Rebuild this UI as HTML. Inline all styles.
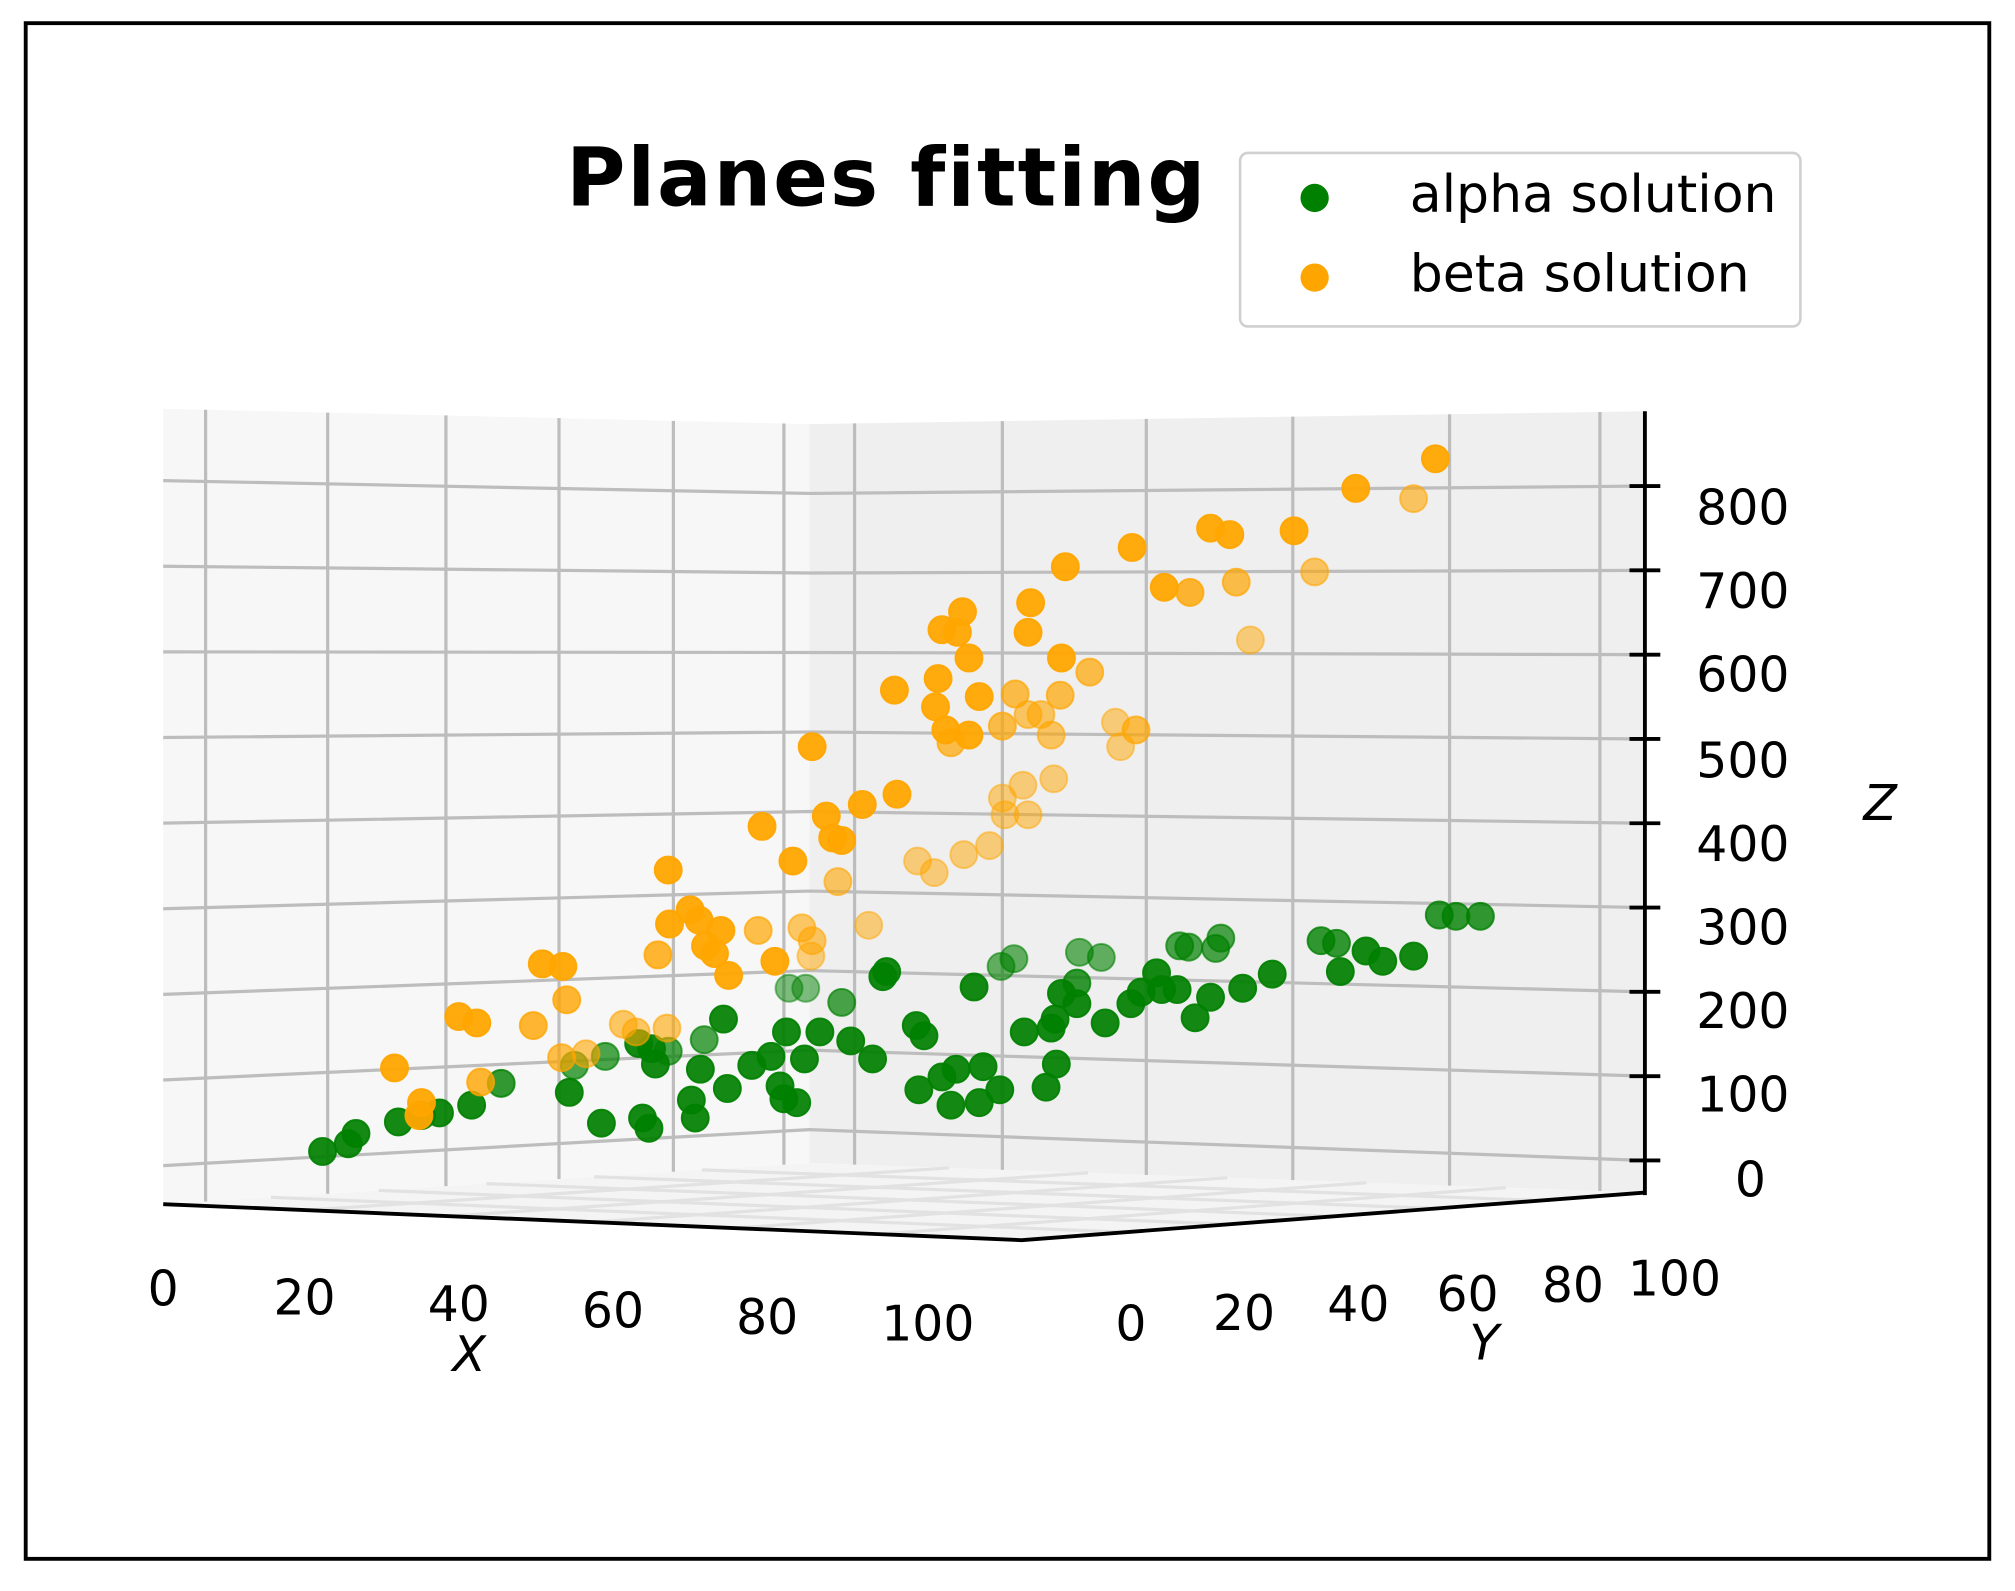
<!DOCTYPE html>
<html><head><meta charset="utf-8"><style>
html,body{margin:0;padding:0;background:#fff;}
svg{display:block;}
text{font-family:"DejaVu Sans","Liberation Sans",sans-serif;fill:#000;}
</style></head><body>
<svg id="s" width="2015" height="1591" viewBox="0 0 1568 1238" xmlns="http://www.w3.org/2000/svg">
<rect x="0" y="0" width="1568" height="1238" fill="#fff"/>
<rect x="20" y="18" width="1528" height="1195" fill="none" stroke="#000" stroke-width="3"/>
<text x="690" y="160" font-size="63" font-weight="bold" text-anchor="middle" letter-spacing="1.5">Planes fitting</text>
<rect x="965" y="119" width="436" height="135" rx="6" fill="#fff" stroke="#d0d0d0" stroke-width="2"/>
<circle cx="1023" cy="154" r="11" fill="#008000"/>
<circle cx="1023" cy="216" r="11" fill="#ffa500"/>
<text x="1097" y="165" font-size="40.5">alpha solution</text>
<text x="1097" y="227" font-size="40.5">beta solution</text>
<polygon points="127,318 630,330 630,905 127,937" fill="#f7f7f7"/>
<polygon points="630,330 1280,320 1280,928 630,905" fill="#efefef"/>
<polygon points="127,937 630,905 1280,928 795,965" fill="#f4f4f4"/>
<g id="grid" stroke="#bdbdbd" stroke-width="2.5" fill="none"></g>
<g stroke="#000" stroke-width="3" fill="none">
<line x1="1280" y1="320" x2="1280" y2="930"/>
<polyline points="127,937 795,965 1280,928"/>
</g>
<g id="ticks" stroke="#000" stroke-width="3"></g>
<g font-size="38">
<text x="1320" y="408">800</text><text x="1320" y="473">700</text><text x="1320" y="538">600</text>
<text x="1320" y="605">500</text><text x="1320" y="670">400</text><text x="1320" y="735">300</text>
<text x="1320" y="800">200</text><text x="1320" y="865">100</text><text x="1350" y="931">0</text>
<text x="1450" y="638" font-style="italic">Z</text>
<text x="127" y="1016" text-anchor="middle">0</text><text x="237" y="1023" text-anchor="middle">20</text>
<text x="357" y="1028" text-anchor="middle">40</text><text x="477" y="1033" text-anchor="middle">60</text>
<text x="597" y="1038" text-anchor="middle">80</text><text x="722" y="1043" text-anchor="middle">100</text>
<text x="365" y="1067" text-anchor="middle" font-style="italic">X</text>
<text x="880" y="1043" text-anchor="middle">0</text><text x="968" y="1035" text-anchor="middle">20</text>
<text x="1057" y="1028" text-anchor="middle">40</text><text x="1142" y="1020" text-anchor="middle">60</text>
<text x="1224" y="1013" text-anchor="middle">80</text><text x="1303" y="1008" text-anchor="middle">100</text>
<text x="1155" y="1058" text-anchor="middle" font-style="italic">Y</text>
</g>
<g id="pts"></g>
</svg>
<script>
var NS="http://www.w3.org/2000/svg";
function el(p,t,a){var e=document.createElementNS(NS,t);for(var k in a)e.setAttribute(k,a[k]);p.appendChild(e);return e;}
var g=document.getElementById("grid");
for(var z=0;z<=800;z+=100){
 var yL=907-z*0.6663, yC=yL-28+38*z/800, yR=903-0.656*z;
 el(g,"polyline",{points:"127,"+yL+" 630,"+yC+" 1280,"+yR});
 el(document.getElementById("ticks"),"line",{x1:1268,y1:yR,x2:1292,y2:yR});
}
function topY(x){return x<630?318+(x-127)*12/503:330-(x-630)*10/650;}
[160,255,347,435,524,610].forEach(function(x){el(g,"line",{x1:x,y1:topY(x),x2:x,y2:937-(x-127)*32/503});});
[665,780,892,1006,1128,1245].forEach(function(x){el(g,"line",{x1:x,y1:topY(x),x2:x,y2:905+(x-630)*23/650});});
for(var i=1;i<6;i++){var t=i/6;
 var ax=127+(630-127)*t, ay=937+(905-937)*t, bx=795+(1280-795)*t, by=965+(928-965)*t;
 el(g,"line",{x1:ax,y1:ay,x2:bx,y2:by,stroke:"#e2e2e2"});
 var cx=630+(1280-630)*t, cy=905+(928-905)*t, dx=127+(795-127)*t, dy=937+(965-937)*t;
 el(g,"line",{x1:cx,y1:cy,x2:dx,y2:dy,stroke:"#e2e2e2"});}
var O=[[1117,357],[1055,380],[1100,388,.6],[942,411],[957,416],[1007,413],[881,426],[829,441],[1023,445,.6],[962,453,.7],[906,457],[926,461,.8],[802,469],[749,476],[733,490],[745,492],[800,492],[973,498,.5],[754,512],[826,512],[848,523,.7],[696,537],[730,528],[790,540,.7],[762,542],[825,541,.7],[728,550],[800,556,.6],[810,556,.6],[736,568],[754,572],[780,565,.7],[868,562,.5],[884,568,.7],[818,572,.6],[740,578,.7],[872,581,.5],[632,581],[820,606,.5],[796,611,.5],[780,621,.5],[698,618],[671,626],[643,635],[782,634,.5],[800,634,.5],[593,643],[655,654],[648,652],[770,658,.5],[750,665,.5],[714,670,.5],[727,679,.5],[617,670],[520,677],[652,686,.6],[537,708],[521,719],[544,716],[561,724],[590,724,.7],[624,722,.6],[549,736],[676,720,.5],[556,742],[603,748],[632,732,.6],[512,743,.8],[567,759],[631,744,.5],[422,750],[438,752],[441,778,.8],[357,791],[371,796],[415,798,.8],[485,797,.6],[519,800,.6],[437,823,.7],[456,820,.6],[495,803,.6],[307,831],[374,842,.8],[328,858],[326,868]];
var G=[[251,896],[271,890],[277,882],[310,873],[328,868],[342,866],[367,860],[390,843,.8],[443,850],[447,829,.7],[468,874],[471,822,.7],[500,870],[505,878],[507,816],[497,812],[510,828],[538,856],[541,870],[545,832],[520,818,.7],[548,809,.7],[566,847],[563,793],[585,829],[600,822],[607,845],[610,855],[612,803],[626,824],[620,858],[638,803],[662,810],[679,824],[655,780,.7],[614,769,.5],[627,769,.5],[687,760],[690,756],[713,798],[715,848],[719,806],[733,838],[740,860],[744,832],[762,858],[765,830],[778,848],[758,768],[779,752,.6],[789,746,.6],[797,803],[814,846],[822,828],[818,800],[821,793],[826,773],[838,765,.8],[838,781],[840,741,.6],[860,796],[857,745,.6],[880,781],[888,772],[900,757],[904,770],[916,770],[918,736,.7],[925,737,.7],[930,792],[942,776],[946,738,.7],[950,730,.7],[967,769],[990,758],[1028,732,.8],[1040,734,.8],[1043,756],[1063,740],[1076,748],[1100,744],[1120,712,.8],[1133,713,.8],[1152,713,.8]];
var p=document.getElementById("pts");
G.forEach(function(q){var a=q[2]||.92;el(p,"circle",{cx:q[0],cy:q[1],r:10.5,fill:"#008000","fill-opacity":a,stroke:"#008000","stroke-opacity":a,"stroke-width":1.5});});
O.forEach(function(q){var a=q[2]||.95;el(p,"circle",{cx:q[0],cy:q[1],r:10.5,fill:"#ffa500","fill-opacity":a,stroke:"#ffa500","stroke-opacity":a,"stroke-width":1.5});});
</script>
</body></html>
